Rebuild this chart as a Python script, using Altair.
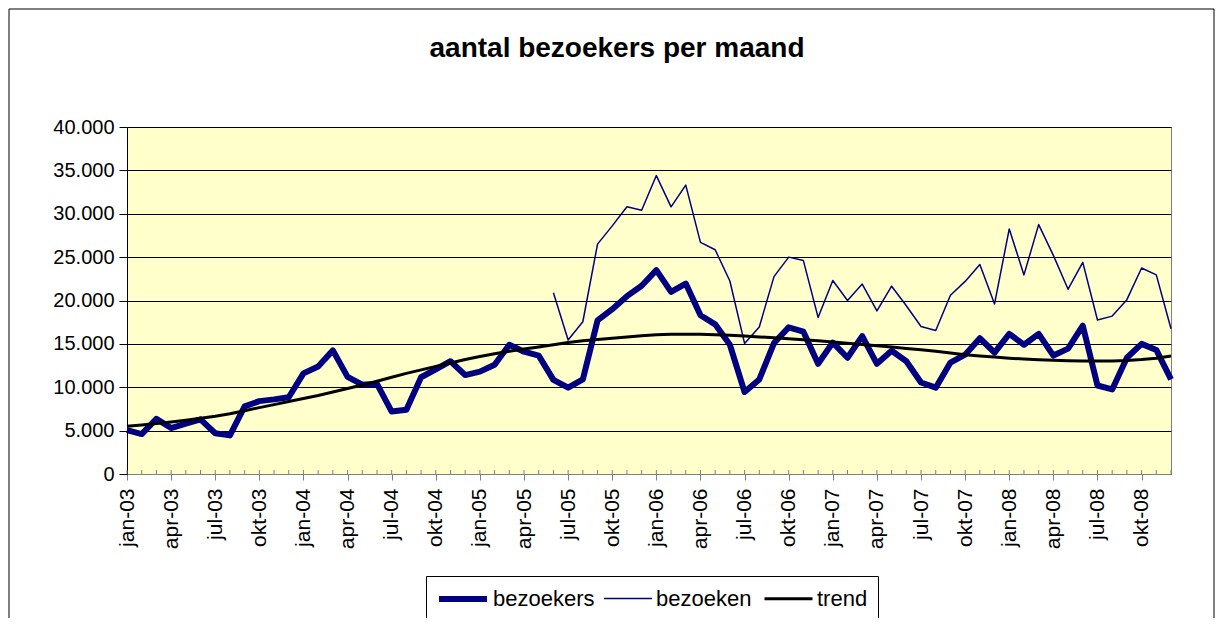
import altair as alt
import pandas as pd

# ---------------- data ----------------
month_abbr = ["jan", "feb", "mrt", "apr", "mei", "jun", "jul", "aug", "sep", "okt", "nov", "dec"]
years = ["03", "04", "05", "06", "07", "08"]
months = [f"{m}-{y}" for y in years for m in month_abbr]
major_labels = [f"{m}-{y}" for y in years for m in ["jan", "apr", "jul", "okt"]]

bezoekers = [
    5050, 4600, 6350, 5300, 5800, 6300, 4700, 4450, 7800, 8400, 8600, 8850,
    11600, 12400, 14250, 11200, 10300, 10400, 7200, 7400, 11150, 12050, 13000, 11400,
    11800, 12600, 14900, 14100, 13650, 10850, 9950, 10900, 17700, 19000, 20500, 21700,
    23500, 21000, 21950, 18300, 17250, 14900, 9450, 10900, 15100, 16900, 16400, 12700,
    15150, 13400, 15900, 12700, 14200, 13000, 10550, 9950, 12850, 13750, 15650, 14000,
    16150, 14900, 16150, 13650, 14450, 17100, 10200, 9750, 13400, 15000, 14300, 10900,
]

bezoeken = [None] * 29 + [
    20900, 15450, 17550, 26500, 28600, 30800, 30400,
    34400, 30800, 33300, 26700, 25850, 22250, 15050, 16950, 22750, 25000, 24600, 18050,
    22300, 20000, 21900, 18800, 21650, 19400, 17000, 16550, 20600, 22200, 24150, 19600,
    28250, 22950, 28750, 25200, 21300, 24400, 17750, 18200, 20100, 23750, 22950, 16750,
]

trend = [
    5500, 5650, 5820, 6000, 6200, 6420, 6650, 6950, 7300, 7650, 8000, 8350,
    8700, 9050, 9450, 9850, 10250, 10700, 11150, 11600, 12000, 12400, 12800, 13200,
    13550, 13850, 14150, 14400, 14650, 14900, 15150, 15350, 15500, 15650, 15800, 15950,
    16050, 16100, 16100, 16100, 16050, 16000, 15900, 15800, 15700, 15600, 15480, 15350,
    15230, 15080, 14930, 14780, 14630, 14480, 14330, 14150, 13950, 13750, 13600, 13480,
    13350, 13250, 13170, 13100, 13050, 13020, 13020, 13040, 13090, 13200, 13350, 13600,
]

y_ticks = [0, 5000, 10000, 15000, 20000, 25000, 30000, 35000, 40000]
series_names = ["bezoekers", "bezoeken", "trend"]
series_colors = ["#000080", "#000080", "#000000"]
series_widths = [6, 1.5, 3]
title_text = "aantal bezoekers per maand"

# ---------------- tables ----------------
rows = []
for name, vals in zip(series_names, [bezoekers, bezoeken, trend]):
    for m, v in zip(months, vals):
        if v is not None:
            rows.append({"month": m, "series": name, "value": v})
df = pd.DataFrame(rows)
month_df = pd.DataFrame({"month": months})

W, H = 1044, 347
FONT = "Liberation Sans"

x_enc = alt.X(
    "month:O",
    scale=alt.Scale(domain=months, type="point", padding=0),
    axis=alt.Axis(
        values=major_labels, labelAngle=-90, labelFont=FONT, labelFontSize=21,
        labelColor="black", labelPadding=8, tickSize=6, tickColor="#808080",
        domainColor="#808080", grid=False, title=None,
    ),
)
y_enc = alt.Y(
    "value:Q",
    scale=alt.Scale(domain=[0, 40000]),
    axis=alt.Axis(
        values=y_ticks, labelFont=FONT, labelFontSize=20, labelColor="black",
        labelPadding=5, tickSize=8, tickColor="black", domainColor="black",
        grid=True, gridColor="black", gridWidth=1, title=None,
        labelExpr="replace(format(datum.value, ','), ',', '.')",
    ),
)
legend = alt.Legend(
    title=None, orient="none", legendX=299, legendY=449, direction="horizontal",
    symbolType="M-1,0L3.8,0", symbolSize=400, labelFont=FONT, labelFontSize=22,
    labelColor="black", labelOffset=31, columnPadding=6, strokeColor="black",
    fillColor="white", padding=10,
)
color_enc = alt.Color(
    "series:N", scale=alt.Scale(domain=series_names, range=series_colors), legend=legend
)
width_enc = alt.StrokeWidth(
    "series:N", scale=alt.Scale(type="ordinal", domain=series_names, range=series_widths), legend=legend
)

minor_ticks = alt.Chart(month_df).mark_rule(color="#808080", strokeWidth=1).encode(
    x=x_enc, y=alt.value(H - 4), y2=alt.value(H)
)

layers = [minor_ticks]
for name in series_names:
    layers.append(
        alt.Chart(df).transform_filter(alt.datum.series == name)
        .mark_line(strokeJoin="round")
        .encode(x=x_enc, y=y_enc, color=color_enc, strokeWidth=width_enc)
    )

one = pd.DataFrame({"t": [title_text]})
title_layer = alt.Chart(one).mark_text(
    font=FONT, fontSize=28, fontWeight="bold", align="center", baseline="middle", color="black"
).encode(text="t:N", x=alt.value(490), y=alt.value(-78))

frame_top = alt.Chart(one).mark_rule(color="black", strokeWidth=1).encode(
    x=alt.value(-118), x2=alt.value(1087), y=alt.value(-118)
)
frame_left = alt.Chart(one).mark_rule(color="black", strokeWidth=1).encode(
    x=alt.value(-118), y=alt.value(-118), y2=alt.value(491)
)
frame_right = alt.Chart(one).mark_rule(color="black", strokeWidth=1).encode(
    x=alt.value(1087), y=alt.value(-118), y2=alt.value(491)
)

chart = alt.layer(*layers, title_layer, frame_top, frame_left, frame_right).properties(
    width=W, height=H,
    autosize=alt.AutoSizeParams(type="none"),
    padding={"left": 119, "top": 119, "right": 44, "bottom": 144},
    background="white",
).configure_view(fill="#FFFFCC", stroke="#808080")

chart.save("out.html", embed_options={"renderer": "svg", "actions": False})
